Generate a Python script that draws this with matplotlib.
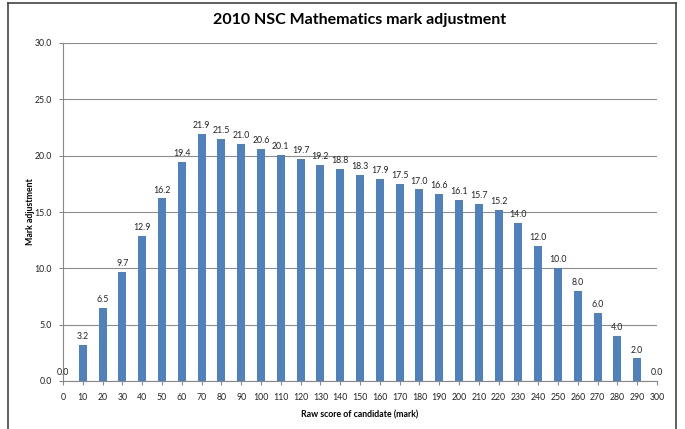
import matplotlib
matplotlib.use("Agg")
import matplotlib.pyplot as plt
from matplotlib.lines import Line2D

raw_scores = list(range(0, 301, 10))
adjustments = [0.0, 3.2, 6.5, 9.7, 12.9, 16.2, 19.4, 21.9, 21.5, 21.0, 20.6, 20.1,
               19.7, 19.2, 18.8, 18.3, 17.9, 17.5, 17.0, 16.6, 16.1, 15.7, 15.2,
               14.0, 12.0, 10.0, 8.0, 6.0, 4.0, 2.0, 0.0]
title = "2010 NSC Mathematics mark adjustment"
x_label = "Raw score of candidate (mark)"
y_label = "Mark adjustment"

plt.rcParams['font.family'] = ['Lato', 'DejaVu Sans']

fig = plt.figure(figsize=(6.85, 4.29), dpi=100)
ax = fig.add_axes([63/685, 1-381/429, (657-63)/685, (381-43)/429])

ax.bar(raw_scores, adjustments, width=4.0, color='#4F81BD', zorder=3)
for x, v in zip(raw_scores, adjustments):
    ax.text(x, v + 0.35, f"{v:.1f}", ha='center', va='bottom', fontsize=6.3, color='#222222', zorder=4)

ax.set_xlim(0, 300)
ax.set_ylim(0, 30)
ax.set_xticks(range(0, 301, 10))
ax.set_yticks([0, 5, 10, 15, 20, 25, 30])
ax.set_yticklabels([f"{v:.1f}" for v in [0, 5, 10, 15, 20, 25, 30]])
ax.tick_params(axis='both', labelsize=6.3, colors='#222222', length=3, width=0.8)
ax.tick_params(axis='x', color='#888888', pad=6)
ax.tick_params(axis='y', color='#888888', pad=5)
ax.yaxis.grid(True, color='#8c8c8c', linewidth=0.8, zorder=0)
for s in ['top', 'right']:
    ax.spines[s].set_visible(False)
for s in ['left', 'bottom']:
    ax.spines[s].set_color('#888888')
    ax.spines[s].set_linewidth(0.8)

ax.set_xlabel(x_label, fontsize=6.3, fontweight='bold', labelpad=6)
ax.set_ylabel(y_label, fontsize=6.3, fontweight='bold')
ax.yaxis.set_label_coords((35-63)/594, 0.5)
fig.text(360/685, 1-20/429, title, ha='center', va='center', fontsize=11.5, fontweight='bold')

# outer chart frame
fig.add_artist(Line2D([8/685, 8/685], [0, 1-3/429], transform=fig.transFigure, color='#444444', linewidth=1.2))
fig.add_artist(Line2D([676/685, 676/685], [0, 1-3/429], transform=fig.transFigure, color='#444444', linewidth=1.2))
fig.add_artist(Line2D([8/685, 676/685], [1-3/429, 1-3/429], transform=fig.transFigure, color='#444444', linewidth=1.2))

fig.savefig("out.png", dpi=100)
